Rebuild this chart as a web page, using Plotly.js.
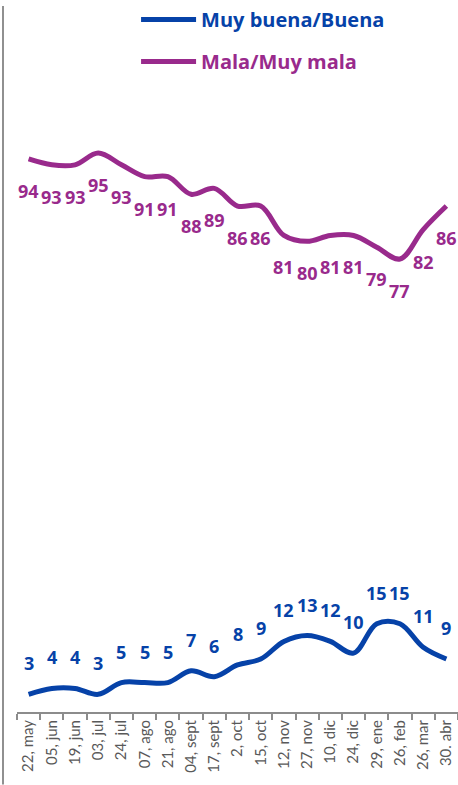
<!DOCTYPE html>
<html>
<head>
<meta charset="utf-8">
<script src="https://cdn.plot.ly/plotly-3.0.1.min.js"></script>
<style>
html,body{margin:0;padding:0;background:#fff;overflow:hidden;width:458px;height:785px;}
#chart{width:458px;height:785px;}
</style>
</head>
<body>
<div id="chart"></div>
<script>
const categories = ["22, may","05, jun","19, jun","03, jul","24, jul","07, ago","21, ago","04, sept","17, sept","2, oct","15, oct","12, nov","27, nov","10, dic","24, dic","29, ene","26, feb","26, mar","30. abr"];
const buena = [3,4,4,3,5,5,5,7,6,8,9,12,13,12,10,15,15,11,9];
const mala = [94,93,93,95,93,91,91,88,89,86,86,81,80,81,81,79,77,82,86];
const seriesNames = ["Muy buena/Buena","Mala/Muy mala"];
const colors = ["#0642A8","#992A8C"];

const labelFont = {family:"'Open Sans', Lato, sans-serif", size:18};

const traces = [
  {x:categories, y:buena, type:"scatter", mode:"lines", name:'<span style="color:'+colors[0]+'"><b>'+seriesNames[0]+'</b></span>',
   line:{color:colors[0], width:5, shape:"spline", smoothing:1}, legendgroup:"a", hoverinfo:"skip"},
  {x:categories, y:mala, type:"scatter", mode:"lines", name:'<span style="color:'+colors[1]+'"><b>'+seriesNames[1]+'</b></span>',
   line:{color:colors[1], width:5, shape:"spline", smoothing:1}, legendgroup:"b", hoverinfo:"skip"}
];

const annotations = [];
categories.forEach((c,i)=>{
  annotations.push({x:c, y:buena[i], xref:"x", yref:"y", text:"<b>"+buena[i]+"</b>", showarrow:false, yshift:31,
    font:{family:labelFont.family, size:labelFont.size, color:colors[0]}});
  annotations.push({x:c, y:mala[i], xref:"x", yref:"y", text:"<b>"+mala[i]+"</b>", showarrow:false, yshift:-32,
    font:{family:labelFont.family, size:labelFont.size, color:colors[1]}});
});

const layout = {
  width:458, height:785,
  margin:{l:17, r:0, t:0, b:73},
  paper_bgcolor:"#fff", plot_bgcolor:"#fff",
  showlegend:true,
  legend:{x:0.27, y:1.009, xanchor:"left", yanchor:"top", orientation:"v", traceorder:"grouped", tracegroupgap:13,
    font:{family:"'Open Sans', Lato, sans-serif", size:20}, bgcolor:"rgba(0,0,0,0)", itemwidth:55},
  xaxis:{type:"category", range:[-0.5,18.5], showline:true, linecolor:"#8c8c8c", linewidth:2,
    ticks:"outside", tickson:"boundaries", ticklen:6, tickwidth:2, tickcolor:"#8c8c8c",
    tickangle:-90, tickfont:{family:"Lato, 'Open Sans', sans-serif", size:15, color:"#595959"},
    showgrid:false, zeroline:false, fixedrange:true},
  yaxis:{range:[0,120], visible:false, showgrid:false, zeroline:false, fixedrange:true},
  annotations:annotations,
  shapes:[{type:"line", xref:"paper", yref:"paper", x0:-14/441, x1:-14/441, y0:-73/712, y1:1,
    line:{color:"#6b6b6b", width:1.5}}]
};

Plotly.newPlot("chart", traces, layout, {displayModeBar:false, staticPlot:true});
</script>
</body>
</html>
